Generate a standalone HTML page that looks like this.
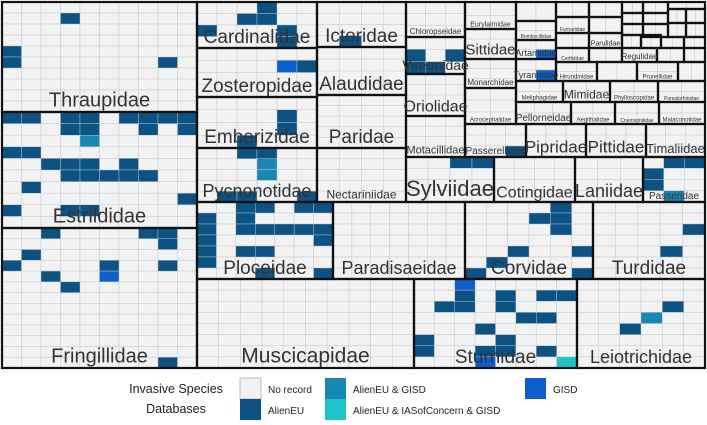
<!DOCTYPE html>
<html><head><meta charset="utf-8"><style>
html,body{margin:0;padding:0;background:#fff;width:707px;height:425px;overflow:hidden}
svg{display:block}
text{font-family:"Liberation Sans",sans-serif}
</style></head><body>
<svg id="chart" width="707" height="425" viewBox="0 0 707 425"></svg>
<script>
// family name, x0, y0, x1, y1, label font size, cols, rows
const familyNames = ["Thraupidae","Estrildidae","Fringillidae","Cardinalidae","Zosteropidae","Emberizidae","Pycnonotidae","Icteridae","Alaudidae","Paridae","Nectariniidae","Ploceidae","Paradisaeidae","Corvidae","Turdidae","Muscicapidae","Sturnidae","Leiotrichidae","Sylviidae","Cotingidae","Laniidae","Passeridae","Chloropseidae","Vireonidae","Oriolidae","Motacillidae","Eurylaimidae","Sittidae","Monarchidae","Acrocephalidae","Passerellidae","Pipridae","Pittidae","Timaliidae","Meliphagidae","Mimidae","Phylloscopidae","Pomatorhinidae","Pellorneidae","Aegithalidae","Cnemophilidae","Malaconotidae","Bombycillidae","Artamidae","Tyrannidae","Furnariidae","Parulidae","Certhiidae","Regulidae","Hirundinidae","Prunellidae"];
const familyBoxes = [
[2,2,197,112,20,10,10],[2,112,197,228,20,10,10],[2,228,197,368,20,10,13],
[197,2,317,48,19,6,4],[197,48,317,97,19,6,4],[197,97,317,148,19,6,4],[197,148,317,202,18,6,5],
[317,2,406,47,19,4,4],[317,47,406,95,19,4,4],[317,95,406,148,19,4,5],[317,148,406,202,12,4,5],
[197,202,333,279,19,7,7],[333,202,465,279,18,7,7],[465,202,593,279,19,6,7],[593,202,705,279,19,5,7],
[197,279,414,368,21,10,8],[414,279,577,368,19,8,8],[577,279,705,368,18,6,8],
[406,157,494,202,22,4,4],[494,157,575,202,16,4,4],[575,157,643,202,18,3,4],[643,157,705,202,10,3,4],
[406,2,465,37,8,3,3],[406,37,465,74,14,3,3],[406,74,465,116,16,3,4],[406,116,465,157,11,3,4],
[465,2,516,29,7,2,2],[465,29,516,59,15,2,3],[465,59,516,88,8,2,3],[465,88,516,124,6,2,3],
[465,124,526,157,10,3,3],[526,124,586,157,17,3,3],[586,124,646,157,17,3,3],[646,124,705,157,13,3,3],
[516,81,563,102,6,2,2],[563,81,610,102,12,2,2],[610,81,658,102,6,2,2],[658,81,705,102,5,2,2],
[516,102,571,124,10,3,2],[571,102,615,124,6,2,2],[615,102,659,124,5,2,2],[659,102,705,124,6,2,2],
[516,21,556,40,5,2,2],[516,40,556,59,9,2,2],[516,59,556,81,9,2,2],
[556,17,589,33,5,2,1],[589,33,622,48,7,2,1],[556,48,589,62,5,2,1],[622,48,657,62,8,2,1],
[556,62,597,81,6,2,2],[637,62,678,81,6,2,2]
];
// unlabeled small families
const smallBoxes = [[516,2,556,21],[556,2,589,17],[589,2,622,17],[622,2,643,13],[643,2,668,13],[668,2,705,9],
[668,9,686,23],[686,9,705,23],[622,13,643,24],[643,13,668,24],[589,17,622,33],[622,24,643,35],[643,24,668,37],
[668,23,686,37],[686,23,705,37],[556,33,589,48],[622,35,641,48],[641,35,661,48],[661,37,684,48],[684,37,705,48],
[589,48,622,62],[657,48,684,62],[684,48,705,62],[597,62,637,81],[678,62,705,81]];
// coloured records: family index, col, row, category (1 AlienEU, 2 AlienEU&GISD, 3 AlienEU&IAS&GISD, 4 GISD)
const recFamily = [0,0,0,0, 1,1,1,1,1,1,1,1,1,1,1,1,1,1,1,1,1,1,1,1,1,1,1,1,1,1,1,1,1, 2,2,2,2,2,2,2,2,2,2,2,2, 3,3,3,3,3,3, 4,4, 5,5,5, 6,6,6,6,6,6,6, 7, 23,23,23,23,
11,11,11,11,11,11,11,11,11,11,11,11,11,11,11,11,11,11,11,11, 13,13,13,13,13,13,13,13,13, 14,14,
16,16,16,16,16,16,16,16,16,16,16,16,16,16,16,16,16,16,16, 17,17,17, 21,21,21,21,21, 30,43,44,18,18];
const recCol = [3,0,0,8, 0,1,3,4,6,7,8,9,3,4,7,9,4,0,1,2,3,4,6,3,4,5,6,7,1,9,0,3,4, 2,7,8,8,1,0,5,8,2,5,3,8, 3,2,3,0,4,4, 4,5, 4,4,2, 2,3,3,3,1,2,5, 1, 0,2,0,1,
2,3,5,6,0,0,0,0,0,2,2,3,4,5,6,6,2,3,3,6, 3,4,4,4,2,5,1,0,5, 4,3,
2,2,1,2,4,4,6,7,5,6,3,4,0,0,3,4,6,3,7, 4,3,2, 1,2,0,0,1, 2,1,1,2,3];
const recRow = [1,4,5,5, 0,0,0,0,0,0,0,0,1,1,1,1,2,3,3,4,4,4,4,5,5,5,5,5,6,7,8,8,8, 0,0,0,1,2,3,3,3,4,4,5,12, 0,1,1,2,2,3, 1,1, 1,2,3, 0,0,1,2,4,4,4, 3, 1,1,2,2,
0,0,0,0,1,2,3,4,5,1,2,2,2,2,2,3,4,4,6,6, 1,0,1,2,4,4,5,6,6, 2,4,
0,1,2,2,1,2,1,1,3,3,4,5,5,6,6,6,6,7,7, 2,3,4, 0,0,1,2,3, 2,1,1,0,0];
const recCat = [1,1,1,1, 1,1,1,1,1,1,1,1,1,1,1,1,2,1,1,1,1,1,1,1,1,1,1,1,1,1,1,1,1, 1,1,1,1,1,1,1,1,1,4,1,1, 1,1,1,1,1,1, 4,1, 1,1,1, 1,1,2,2,1,1,1, 1, 1,1,1,1,
1,1,1,1,1,1,1,1,1,1,1,1,1,1,1,1,1,1,1,1, 1,1,1,1,1,1,1,1,1, 1,1,
4,1,1,1,1,1,1,1,1,1,1,1,1,1,1,1,1,4,3, 1,2,1, 1,1,1,1,2, 1,4,4,1,1];
const catColors = ["#f2f2f2","#0b5384","#1787b3","#1cc3c9","#0b5fcc"];
const legendLabels = ["No record","AlienEU","AlienEU & GISD","AlienEU & IASofConcern & GISD","GISD"];

const NS="http://www.w3.org/2000/svg";
const svg=document.getElementById('chart');
function mk(tag,attrs,parent){const e=document.createElementNS(NS,tag);for(const k in attrs)e.setAttribute(k,attrs[k]);(parent||svg).appendChild(e);return e;}
const cellsG=mk('g',{});


const recG=mk('g',{});


const borderG=mk('g',{});
const labelG=mk('g',{});

function gridCells(x0,y0,x1,y1,c,r){
  const cw=(x1-x0)/c,rh=(y1-y0)/r;
  for(let i=0;i<c;i++)for(let j=0;j<r;j++){
    const cell=mk('rect',{x:x0+i*cw,y:y0+j*rh,width:cw,height:rh,fill:'#f2f2f2',stroke:'#cdcdcd','stroke-width':0.6},cellsG);
    
    
  }
}
familyBoxes.forEach((b,i)=>{gridCells(b[0],b[1],b[2],b[3],b[5],b[6]);});
smallBoxes.forEach(b=>{gridCells(b[0],b[1],b[2],b[3],2,1);});

recFamily.forEach((f,k)=>{
  const b=familyBoxes[f];const cw=(b[2]-b[0])/b[5],rh=(b[3]-b[1])/b[6];
  const r=mk('rect',{x:b[0]+recCol[k]*cw,y:b[1]+recRow[k]*rh,width:cw,height:rh,fill:catColors[recCat[k]],stroke:'#cdcdcd','stroke-width':0.4},recG);
  
  
});

familyBoxes.forEach((b,i)=>{
  const r=mk('rect',{x:b[0],y:b[1],width:b[2]-b[0],height:b[3]-b[1],fill:'none',stroke:'#111','stroke-width':2.2},borderG);
  
  
  const t=mk('text',{x:(b[0]+b[2])/2,y:b[3]-b[4]*0.22-1,'font-size':b[4],fill:'#333','text-anchor':'middle'},labelG);
  t.textContent=familyNames[i];
  
  
});
smallBoxes.forEach(b=>{
  const r=mk('rect',{x:b[0],y:b[1],width:b[2]-b[0],height:b[3]-b[1],fill:'none',stroke:'#111','stroke-width':2.2},borderG);
  
  
});

// legend
const lg=mk('g',{});


const t1=mk('text',{x:176,y:393,'font-size':12.5,fill:'#222','text-anchor':'middle'},lg);t1.textContent='Invasive Species';


const t2=mk('text',{x:176,y:413,'font-size':12.5,fill:'#222','text-anchor':'middle'},lg);t2.textContent='Databases';


const legPos=[[240,378],[240,399],[325,378],[325,399],[525,378]];
legendLabels.forEach((l,i)=>{
  const p=legPos[i];
  const s=mk('rect',{x:p[0],y:p[1],width:21,height:21,fill:catColors[i],stroke:i==0?'#bbb':'none','stroke-width':1},lg);
  
  
  const t=mk('text',{x:p[0]+28,y:p[1]+15,'font-size':10,fill:'#222'},lg);
  t.textContent=l;
  
  
});
</script>
</body></html>
